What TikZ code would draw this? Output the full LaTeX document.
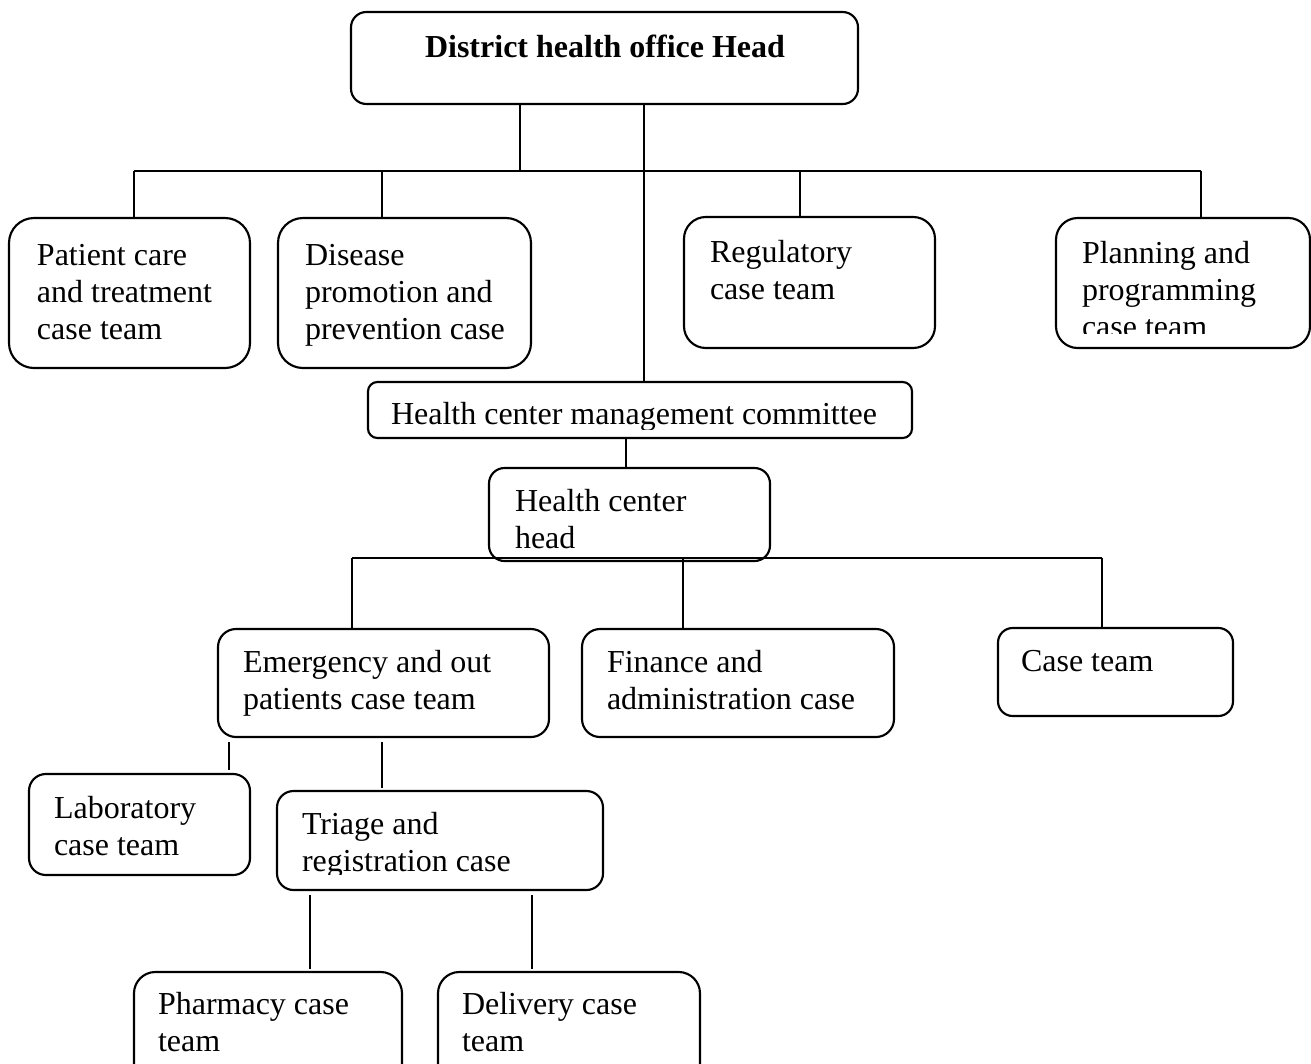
\documentclass[tikz,border=0pt]{standalone}
\usepackage{fontspec}
\setmainfont{Liberation Serif}
\begin{document}
\begin{tikzpicture}[x=0.375pt,y=-0.375pt,
  box/.style={draw, line width=0.8pt, inner sep=0pt, outer sep=0pt},
  conn/.style={line width=0.6pt},
  txt/.style={inner sep=0pt, outer sep=0pt, align=left, font=\fontsize{12pt}{13.7pt}\selectfont},
  ]
\newcommand\orgbox[5]{%
  \pgfmathsetmacro\bw{(#4-#2)*0.375}%
  \pgfmathsetmacro\bh{(#5-#3)*0.375}%
  \pgfmathsetmacro\br{min(\bw,\bh)/6}%
  \node[box, minimum width=\bw pt, minimum height=\bh pt, rounded corners=\br pt, anchor=north west] (#1) at (#2,#3) {};}
\newcommand\orgtxt[4]{%
  \node[txt, anchor=north west] (#1) at (#2,{#3-25.6}) {\strut #4};}
\clip (0,0) rectangle (1311,1064);
\useasboundingbox (0,0) rectangle (1311,1064);

% boxes
\orgbox{head}{351}{12}{858}{104}
\node[txt, anchor=base, font=\fontsize{12pt}{13.7pt}\selectfont\bfseries] (head-t) at (605,57) {District health office Head};

\orgbox{pct}{9}{218}{250}{368}
\orgtxt{pct-t}{37}{266}{Patient care\\and treatment\\case team}
\orgbox{dpp}{278}{218}{531}{368}
\orgtxt{dpp-t}{305}{266}{Disease\\promotion and\\prevention case}
\orgbox{reg}{684}{217}{935}{348}
\orgtxt{reg-t}{710}{263}{Regulatory\\case team}
\orgbox{ppc}{1056}{218}{1310}{348}
\begin{scope}
  \clip (1056,218) rectangle (1310,333);
  \orgtxt{ppc-t}{1082}{264}{Planning and\\programming\\case team}
\end{scope}

\orgbox{hcmc}{368}{382}{912}{438}
\begin{scope}
  \clip (368,382) rectangle (912,429);
  \orgtxt{hcmc-t}{391}{425}{Health center management committee}
\end{scope}

\orgbox{hch}{489}{468}{770}{561}
\orgtxt{hch-t}{515}{512}{Health center\\head}

\orgbox{eop}{218}{629}{549}{737}
\orgtxt{eop-t}{243}{673}{Emergency and out\\patients case team}
\orgbox{fin}{582}{629}{894}{737}
\orgtxt{fin-t}{607}{673}{Finance and\\administration case}
\orgbox{ct}{998}{628}{1233}{716}
\orgtxt{ct-t}{1021}{672}{Case team}

\orgbox{lab}{29}{774}{250}{875}
\orgtxt{lab-t}{54}{819}{Laboratory\\case team}
\orgbox{tri}{277}{791}{603}{890}
\begin{scope}
  \clip (277,791) rectangle (603,874);
  \orgtxt{tri-t}{302}{835}{Triage and\\registration case}
\end{scope}

\orgbox{pha}{134}{972}{402}{1100}
\orgtxt{pha-t}{158}{1015}{Pharmacy case\\team}
\orgbox{del}{438}{972}{700}{1100}
\orgtxt{del-t}{462}{1015}{Delivery case\\team}

% connectors: top level
\coordinate (busA-l) at (134,171);
\coordinate (busA-r) at (1201,171);
\coordinate (busA-m) at (520,171);
\coordinate (busA-2) at (382,171);
\coordinate (busA-3) at (800,171);
\coordinate (vA) at (644,104);
\draw[conn] (busA-l) -- (busA-r);
\draw[conn] (head.south -| busA-m) -- (busA-m);
\draw[conn] (busA-l) -- (pct.north -| busA-l);
\draw[conn] (busA-2) -- (dpp.north -| busA-2);
\draw[conn] (busA-3) -- (reg.north -| busA-3);
\draw[conn] (busA-r) -- (ppc.north -| busA-r);
\draw[conn] (head.south -| vA) -- (hcmc.north -| vA);

% health centre
\coordinate (vB) at (626,438);
\draw[conn] (hcmc.south -| vB) -- (hch.north -| vB);
\coordinate (busB-l) at (352,558);
\coordinate (busB-r) at (1102,558);
\coordinate (busB-m) at (683,558);
\draw[conn] (busB-l) -- (busB-r);
\draw[conn] (busB-l) -- (eop.north -| busB-l);
\draw[conn] (busB-m) -- (fin.north -| busB-m);
\draw[conn] (busB-r) -- (ct.north -| busB-r);

% emergency sub-teams
\coordinate (eC1) at (229,742);
\coordinate (eC2) at (382,742);
\draw[conn, shorten >=1.5pt] (eC1) -- (lab.north -| eC1);
\draw[conn, shorten >=1.3pt] (eC2) -- (tri.north -| eC2);

% triage sub-teams
\coordinate (tC1) at (310,895);
\coordinate (tC2) at (532,895);
\draw[conn, shorten >=1.3pt] (tC1) -- (pha.north -| tC1);
\draw[conn, shorten >=1.3pt] (tC2) -- (del.north -| tC2);
\end{tikzpicture}
\end{document}
